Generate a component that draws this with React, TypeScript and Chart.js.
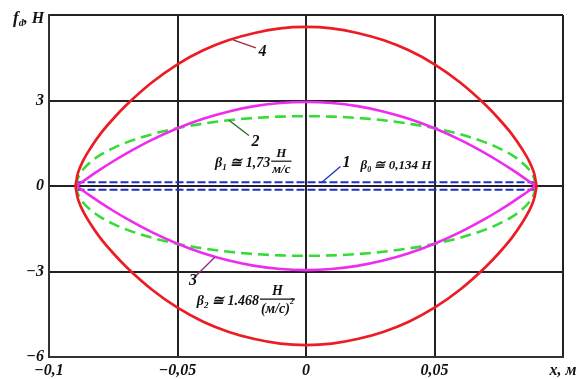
import React, { useEffect, useRef } from "react";
import { Chart, registerables } from "chart.js";

Chart.register(...registerables);

// Half-branch abscissas (mirrored for the negative side), m
const xPos = [0, 0.01, 0.02, 0.03, 0.04, 0.05, 0.06, 0.07, 0.075, 0.08, 0.084, 0.087, 0.0885, 0.089, 0.0893];
// Curve 2 (linear damping), H
const curve2 = [2.45, 2.435, 2.388, 2.308, 2.19, 2.03, 1.815, 1.521, 1.33, 1.089, 0.831, 0.553, 0.327, 0.2, 0];
// Curve 3 (quadratic damping), H
const curve3 = [2.95, 2.913, 2.802, 2.617, 2.358, 2.025, 1.618, 1.137, 0.869, 0.582, 0.34, 0.15, 0.053, 0.02, 0];
// Curve 4 (total), H
const curve4x = [0, 0.01, 0.02, 0.03, 0.04, 0.05, 0.06, 0.07, 0.075, 0.08, 0.084, 0.087, 0.0885, 0.089, 0.0894, 0.0897];
const curve4 = [5.58, 5.53, 5.37, 5.12, 4.76, 4.27, 3.63, 2.83, 2.36, 1.83, 1.31, 0.84, 0.52, 0.36, 0.16, 0];
// Curve 1 (Coulomb friction), H
const beta0 = 0.134;
const curve1Ends = [-0.0893, 0.0893];

const xTicks = [-0.1, -0.05, 0, 0.05, 0.1];
const xTickLabels = ["\u22120,1", "\u22120,05", "0", "0,05", "x, \u043c"];
const yTicks = [-6, -3, 0, 3, 6];
const yTickLabels = ["\u22126", "\u22123", "0", "3", ""];

const RED = "#ec1c24";
const MAGENTA = "#ee2cee";
const GREEN = "#36dc36";
const BLUE = "#2030c8";

function mirror(xs: number[], ys: number[], sign: number) {
  const pts: { x: number; y: number }[] = [];
  for (let i = xs.length - 1; i >= 1; i--) pts.push({ x: -xs[i], y: sign * ys[i] });
  for (let i = 0; i < xs.length; i++) pts.push({ x: xs[i], y: sign * ys[i] });
  return pts;
}

const SERIF = "'Liberation Serif', 'DejaVu Serif', serif";

type Run = { t: string; size: number; dy?: number };

function drawRuns(ctx: CanvasRenderingContext2D, x: number, y: number, runs: Run[]) {
  let cx = x;
  for (const r of runs) {
    ctx.font = `italic bold ${r.size}px ${SERIF}`;
    ctx.fillText(r.t, cx, y + (r.dy || 0));
    cx += ctx.measureText(r.t).width;
  }
  return cx;
}

function drawFrac(ctx: CanvasRenderingContext2D, x: number, midY: number, num: Run[], den: Run[], size: number) {
  const measure = (runs: Run[]) => {
    let w = 0;
    for (const r of runs) {
      ctx.font = `italic bold ${r.size}px ${SERIF}`;
      w += ctx.measureText(r.t).width;
    }
    return w;
  };
  const wn = measure(num);
  const wd = measure(den);
  const w = Math.max(wn, wd) + 2;
  ctx.fillStyle = "#111";
  drawRuns(ctx, x + (w - wn) / 2, midY - 4, num);
  drawRuns(ctx, x + (w - wd) / 2, midY + size - 1, den);
  ctx.strokeStyle = "#111";
  ctx.lineWidth = 1.2;
  ctx.beginPath();
  ctx.moveTo(x, midY);
  ctx.lineTo(x + w, midY);
  ctx.stroke();
}

const annotationPlugin = {
  id: "annotations",
  afterDatasetsDraw(chart: any) {
    const ctx: CanvasRenderingContext2D = chart.ctx;
    const sx = chart.scales.x;
    const sy = chart.scales.y;
    const X = (v: number) => sx.getPixelForValue(v);
    const Y = (v: number) => sy.getPixelForValue(v);
    ctx.save();
    ctx.textBaseline = "alphabetic";
    ctx.textAlign = "left";

    const leader = (x1: number, y1: number, x2: number, y2: number, color: string) => {
      ctx.strokeStyle = color;
      ctx.lineWidth = 1.3;
      ctx.setLineDash([]);
      ctx.beginPath();
      ctx.moveTo(X(x1), Y(y1));
      ctx.lineTo(X(x2), Y(y2));
      ctx.stroke();
    };
    const label = (t: string, x: number, y: number) => {
      ctx.fillStyle = "#111";
      ctx.font = `italic bold 16px ${SERIF}`;
      ctx.textBaseline = "middle";
      ctx.fillText(t, X(x), Y(y));
      ctx.textBaseline = "alphabetic";
    };

    // 4
    leader(-0.0284, 5.13, -0.0195, 4.85, "#a02838");
    label("4", -0.0185, 4.7);
    // 2
    leader(-0.0300, 2.31, -0.0222, 1.77, "#2a6a2a");
    label("2", -0.0212, 1.56);
    // 1
    leader(0.0062, beta0, 0.0134, 0.68, BLUE);
    label("1", 0.0142, 0.82);
    // 3
    leader(-0.0354, -2.49, -0.0428, -3.15, "#8a2a8a");
    label("3", -0.0455, -3.33);

    ctx.fillStyle = "#111";
    // beta1
    let ex = drawRuns(ctx, X(-0.0354), Y(0.66), [
      { t: "\u03b2", size: 14 },
      { t: "1", size: 9, dy: 3 },
      { t: " \u2245 1,73", size: 14 },
    ]);
    drawFrac(ctx, ex + 1, Y(0.87), [{ t: "H", size: 13 }], [{ t: "\u043c/c", size: 13 }], 13);

    // beta0
    drawRuns(ctx, X(0.0212), Y(0.58), [
      { t: "\u03b2", size: 13 },
      { t: "0", size: 8, dy: 3 },
      { t: " \u2245 0,134 H", size: 13 },
    ]);

    // beta2
    ex = drawRuns(ctx, X(-0.0425), Y(-4.17), [
      { t: "\u03b2", size: 14 },
      { t: "2", size: 9, dy: 3 },
      { t: " \u2245 1.468", size: 14 },
    ]);
    drawFrac(
      ctx,
      ex + 1,
      Y(-3.97),
      [{ t: "H", size: 14 }],
      [
        { t: "(\u043c/c)", size: 14 },
        { t: "2", size: 8, dy: -9 },
      ],
      15
    );

    // y axis title f_d, H
    const ca = chart.chartArea;
    drawRuns(ctx, 13, ca.top + 8, [
      { t: "f", size: 17 },
      { t: "d", size: 10, dy: 3 },
      { t: ", H", size: 16 },
    ]);
    ctx.restore();
  },
};

export default function App() {
  const ref = useRef<HTMLCanvasElement | null>(null);

  useEffect(() => {
    document.body.style.margin = "0";
    const canvas = ref.current;
    if (!canvas) return;
    const common = {
      pointRadius: 0,
      fill: false,
      cubicInterpolationMode: "monotone" as const,
    };
    const chart = new Chart(canvas, {
      type: "line",
      data: {
        datasets: [
          { ...common, data: mirror(curve4x, curve4, 1), borderColor: RED, borderWidth: 2.7 },
          { ...common, data: mirror(curve4x, curve4, -1), borderColor: RED, borderWidth: 2.7 },
          { ...common, data: mirror(xPos, curve3, 1), borderColor: MAGENTA, borderWidth: 2.6 },
          { ...common, data: mirror(xPos, curve3, -1), borderColor: MAGENTA, borderWidth: 2.6 },
          { ...common, data: mirror(xPos, curve2, 1), borderColor: GREEN, borderWidth: 2.6, borderDash: [11, 6] },
          { ...common, data: mirror(xPos, curve2, -1), borderColor: GREEN, borderWidth: 2.6, borderDash: [11, 6] },
          {
            ...common,
            data: curve1Ends.map((x) => ({ x, y: beta0 })),
            borderColor: BLUE,
            borderWidth: 2,
            borderDash: [8, 3],
          },
          {
            ...common,
            data: curve1Ends.map((x) => ({ x, y: -beta0 })),
            borderColor: BLUE,
            borderWidth: 2,
            borderDash: [8, 3],
          },
        ],
      },
      options: {
        animation: false,
        responsive: true,
        maintainAspectRatio: false,
        layout: { padding: { top: 15, right: 19, left: 0, bottom: 0 } },
        plugins: { legend: { display: false }, tooltip: { enabled: false } },
        scales: {
          x: {
            type: "linear",
            min: -0.1,
            max: 0.1,
            afterBuildTicks: (s: any) => {
              s.ticks = xTicks.map((v) => ({ value: v }));
            },
            afterFit: (s: any) => {
              s.height = 22;
            },
            grid: { color: "#222", lineWidth: 2, drawTicks: false },
            border: { color: "#333", width: 2 },
            ticks: {
              autoSkip: false,
              maxRotation: 0,
              padding: 4,
              color: "#111",
              font: { family: SERIF, size: 16, style: "italic", weight: "bold" },
              callback: (_v: any, i: number) => xTickLabels[i],
            },
          },
          y: {
            type: "linear",
            min: -6,
            max: 6,
            afterBuildTicks: (s: any) => {
              s.ticks = yTicks.map((v) => ({ value: v }));
            },
            afterFit: (s: any) => {
              s.width = 49;
            },
            grid: { color: "#222", lineWidth: 2, drawTicks: false },
            border: { color: "#333", width: 2 },
            ticks: {
              autoSkip: false,
              padding: 5,
              color: "#111",
              font: { family: SERIF, size: 16, style: "italic", weight: "bold" },
              callback: (_v: any, i: number) => yTickLabels[i],
            },
          },
        },
      },
      plugins: [annotationPlugin],
    });
    return () => chart.destroy();
  }, []);

  return (
    <div style={{ position: "fixed", left: 0, top: 0, width: 582, height: 379, background: "#fff" }}>
      <canvas ref={ref} />
    </div>
  );
}
